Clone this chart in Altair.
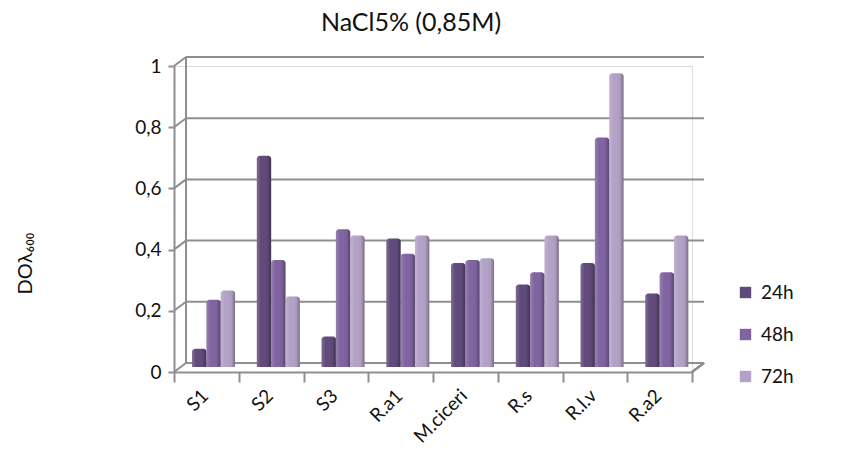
import altair as alt
import pandas as pd

# Optical density (DO at 600 nm) per strain under NaCl 5% stress
strains = ["S1", "S2", "S3", "R.a1", "M.ciceri", "R.s", "R.l.v", "R.a2"]
od_24h = [0.06, 0.69, 0.10, 0.42, 0.34, 0.27, 0.34, 0.24]
od_48h = [0.22, 0.35, 0.45, 0.37, 0.35, 0.31, 0.75, 0.31]
od_72h = [0.25, 0.23, 0.43, 0.43, 0.355, 0.43, 0.96, 0.43]
times = ["24h", "48h", "72h"]
colors = ["#604a7b", "#8064a2", "#b3a2c7"]
y_ticks = [0, 0.2, 0.4, 0.6, 0.8, 1]

rows = []
for t, series in zip(times, [od_24h, od_48h, od_72h]):
    for s, v in zip(strains, series):
        rows.append({"strain": s, "time": t, "od": v})
bars_df = pd.DataFrame(rows)
grid_df = pd.DataFrame({"v": y_ticks})

W, H = 518, 306          # front plane of the plot
DX, DY = 12, -9          # depth offset of the back wall
FONT = "Lato"
GRID = "#8f8f8f"
INK = "#111111"

yscale = alt.Scale(domain=[0, 1])
label_expr = ("datum.value == 0 ? '0' : datum.value == 1 ? '1' : "
              "replace(format(datum.value, '.1f'), '.', ',')")

# back wall gridlines (carry the y axis)
grid = alt.Chart(grid_df).mark_rule(color=GRID, strokeWidth=2, yOffset=DY).encode(
    y=alt.Y("v:Q", scale=yscale,
            axis=alt.Axis(values=y_ticks, labelExpr=label_expr, grid=False,
                          domainColor=GRID, domainWidth=2, tickColor=GRID,
                          tickWidth=2, tickSize=6, labelPadding=7,
                          labelFontSize=19, labelColor=INK, labelFont=FONT,
                          title="DOλ₆₀₀", titleFont=FONT, titleFontSize=20,
                          titleFontWeight="normal", titleColor=INK,
                          titleAngle=-90, titleX=-149, titleY=197,
                          titleAlign="center", titleBaseline="middle")),
    x=alt.value(DX),
    x2=alt.value(W + DX),
)

# side wall diagonals from the front axis to the back wall
side = alt.Chart(grid_df).mark_rule(color=GRID, strokeWidth=2, y2Offset=DY).encode(
    y=alt.Y("v:Q", scale=yscale),
    y2="v:Q",
    x=alt.value(0),
    x2=alt.value(DX),
)

# back wall left edge
wall_edge = alt.Chart(grid_df).mark_rule(
    color=GRID, strokeWidth=2, yOffset=DY, y2Offset=DY
).encode(
    x=alt.value(DX),
    y=alt.datum(0, scale=yscale),
    y2=alt.datum(1),
)

# floor right edge
floor_edge = alt.Chart(grid_df).mark_rule(color=GRID, strokeWidth=2, y2Offset=DY).encode(
    x=alt.value(W),
    x2=alt.value(W + DX),
    y=alt.datum(0, scale=yscale),
    y2=alt.datum(0),
)

x_enc = alt.X("strain:N", sort=strains,
              scale=alt.Scale(paddingInner=0, paddingOuter=0),
              axis=alt.Axis(title=None, labelAngle=-45, tickBand="extent",
                            domainColor=GRID, domainWidth=2, tickColor=GRID,
                            tickWidth=2, tickSize=10, labelPadding=4,
                            labelOffset=-8,
                            labelFontSize=19, labelColor=INK, labelFont=FONT))
xoff_enc = alt.XOffset("time:N", sort=times,
                       scale=alt.Scale(paddingInner=0, paddingOuter=0.76, align=0.83))

bars = alt.Chart(bars_df).mark_bar(
    yOffset=-5, y2Offset=-5, cornerRadiusTopLeft=3, cornerRadiusTopRight=3
).encode(
    x=x_enc,
    xOffset=xoff_enc,
    y=alt.Y("od:Q", scale=yscale),
    y2=alt.datum(0),
    color=alt.Color("time:N", sort=times,
                    scale=alt.Scale(domain=times, range=colors),
                    legend=alt.Legend(title=None, orient="none", legendX=562,
                                      legendY=217, symbolType="square",
                                      symbolSize=130, symbolStrokeWidth=0,
                                      labelFontSize=19, labelFont=FONT,
                                      labelColor=INK, rowPadding=22,
                                      labelOffset=6)),
)

# cylinder-like shading over each bar
shade = alt.Chart(bars_df).mark_bar(
    yOffset=-5, y2Offset=-5, cornerRadiusTopLeft=3, cornerRadiusTopRight=3,
    color=alt.Gradient(
        gradient="linear", x1=0, x2=1, y1=0, y2=0,
        stops=[
            alt.GradientStop(offset=0, color="rgba(255,255,255,0.18)"),
            alt.GradientStop(offset=0.3, color="rgba(255,255,255,0.0)"),
            alt.GradientStop(offset=0.75, color="rgba(0,0,0,0.04)"),
            alt.GradientStop(offset=1, color="rgba(0,0,0,0.32)"),
        ],
    ),
).encode(
    x=alt.X("strain:N", sort=strains),
    xOffset=alt.XOffset("time:N", sort=times),
    y=alt.Y("od:Q", scale=yscale),
    y2=alt.datum(0),
)

chart = alt.layer(grid, side, wall_edge, floor_edge, bars, shade).properties(
    width=W,
    height=H,
    autosize="none",
    padding={"left": 174, "top": 66, "right": 173, "bottom": 98},
    title=alt.TitleParams("NaCl5% (0,85M)", font=FONT, fontSize=25,
                          fontWeight="normal", color=INK,
                          anchor="middle", dx=-22, offset=20),
).configure_view(stroke=None).configure(background="white")

chart.save("out.html", embed_options={"renderer": "svg", "actions": False})
